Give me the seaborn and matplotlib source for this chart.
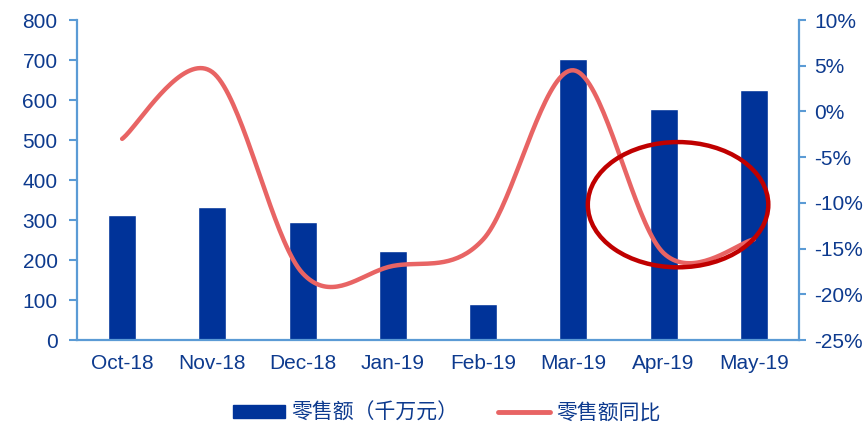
import numpy as np
import pandas as pd
import matplotlib
matplotlib.use("Agg")
import matplotlib.pyplot as plt
from matplotlib.patches import Ellipse, Patch
from matplotlib.lines import Line2D
import seaborn as sns

# Monthly retail sales (ten-million yuan) and year-over-year growth (%)
months = ["Oct-18", "Nov-18", "Dec-18", "Jan-19", "Feb-19", "Mar-19", "Apr-19", "May-19"]
sales = [312, 332, 294, 222, 89, 702, 577, 624]
yoy = [-3.0, 4.3, -17.7, -16.9, -14.0, 4.5, -15.5, -14.0]

left_ticks = [0, 100, 200, 300, 400, 500, 600, 700, 800]
right_ticks = [-25, -20, -15, -10, -5, 0, 5, 10]

BAR = "#003399"
LINE = "#E86464"
SPINE = "#5B9BD5"
TEXT = "#0D3A8E"
RING = "#C00000"

sns.set_style("white")
plt.rcParams["font.family"] = ["Liberation Sans", "Noto Sans CJK SC", "DejaVu Sans"]

df = pd.DataFrame({"month": months, "sales": sales, "yoy": yoy})

fig = plt.figure(figsize=(8.68, 4.26), dpi=100)
ax = fig.add_axes([77 / 868, 86 / 426, 722 / 868, 320 / 426])

sns.barplot(data=df, x="month", y="sales", color=BAR, width=0.31,
            saturation=1, ax=ax, zorder=2)
ax.set_xlim(-0.5, len(months) - 0.5)
ax.set_ylim(0, 800)
ax.set_yticks(left_ticks)
ax.set_xlabel("")
ax.set_ylabel("")

# x ticks: marks at category boundaries, labels at centers
ax.set_xticks(np.arange(-0.5, len(months)), labels=[""] * (len(months) + 1))
ax.set_xticks(np.arange(len(months)), labels=months, minor=True)
ax.tick_params(axis="x", which="major", length=5, width=1.5, color=SPINE, direction="out")
ax.tick_params(axis="x", which="minor", length=0, pad=10, labelsize=15, labelcolor=TEXT)
ax.tick_params(axis="y", length=6, width=1.5, color=SPINE, labelsize=15,
               labelcolor=TEXT, pad=8)

for side in ["top", "right"]:
    ax.spines[side].set_visible(False)
for side in ["left", "bottom"]:
    ax.spines[side].set_color(SPINE)
    ax.spines[side].set_linewidth(1.6)

# Secondary axis for the growth rate, drawn as a smoothed curve
ax2 = ax.twinx()
ax2.set_ylim(-25, 10)
ax2.set_yticks(right_ticks, labels=[f"{v}%" for v in right_ticks])
ax2.tick_params(axis="y", length=5, width=1.5, color=SPINE, labelsize=15,
                labelcolor=TEXT, pad=6)
for side in ["top", "left", "bottom"]:
    ax2.spines[side].set_visible(False)
ax2.spines["right"].set_color(SPINE)
ax2.spines["right"].set_linewidth(1.6)


def smooth_curve(xs, ys, sx=90.25, sy=9.14, steps=40, f=1 / 6):
    """Bezier smoothing through every point. Handles follow the neighbour
    chord (tension 1/6), capped at half the segment length on screen."""
    pts = np.column_stack([np.asarray(xs, float) * sx, np.asarray(ys, float) * sy])
    n = len(pts)
    t = np.linspace(0, 1, steps)[:, None]
    curve = []
    for i in range(n - 1):
        p0 = pts[max(i - 1, 0)]
        p1 = pts[i]
        p2 = pts[i + 1]
        p3 = pts[min(i + 2, n - 1)]
        d02 = np.linalg.norm(p2 - p0)
        d13 = np.linalg.norm(p3 - p1)
        d12 = np.linalg.norm(p2 - p1)
        f1 = d12 / (2 * d02) if d02 * f > d12 / 2 else f
        f2 = d12 / (2 * d13) if d13 * f > d12 / 2 else f
        c1 = p1 + (p2 - p0) * f1
        c2 = p2 - (p3 - p1) * f2
        seg = ((1 - t) ** 3) * p1 + 3 * ((1 - t) ** 2) * t * c1 \
            + 3 * (1 - t) * t ** 2 * c2 + t ** 3 * p2
        curve.append(seg if i == 0 else seg[1:])
    curve = np.vstack(curve)
    return curve[:, 0] / sx, curve[:, 1] / sy


cx, cy = smooth_curve(np.arange(len(yoy)), yoy)
sns.lineplot(x=cx, y=cy, ax=ax2, color=LINE, linewidth=3.2, sort=False,
             solid_capstyle="round", zorder=3)

# Highlight ring around the April rebound
ring = Ellipse((6.16, -10.2), width=2.0, height=13.7, angle=0,
               fill=False, edgecolor=RING, linewidth=3.2, zorder=4, clip_on=False)
ax2.add_patch(ring)

handles = [Patch(facecolor=BAR, edgecolor=BAR),
           Line2D([0], [0], color=LINE, linewidth=3.5, solid_capstyle="round")]
labels = ["零售额（千万元）", "零售额同比"]
leg = fig.legend(handles, labels, loc="center", bbox_to_anchor=(0.515, 0.031),
                 ncol=2, frameon=False, handlelength=2.5, handleheight=0.55,
                 columnspacing=1.9, handletextpad=0.3,
                 prop={"family": ["Noto Sans CJK SC", "DejaVu Sans"], "size": 15})
for txt in leg.get_texts():
    txt.set_color(TEXT)

fig.savefig("out.png", dpi=100)
